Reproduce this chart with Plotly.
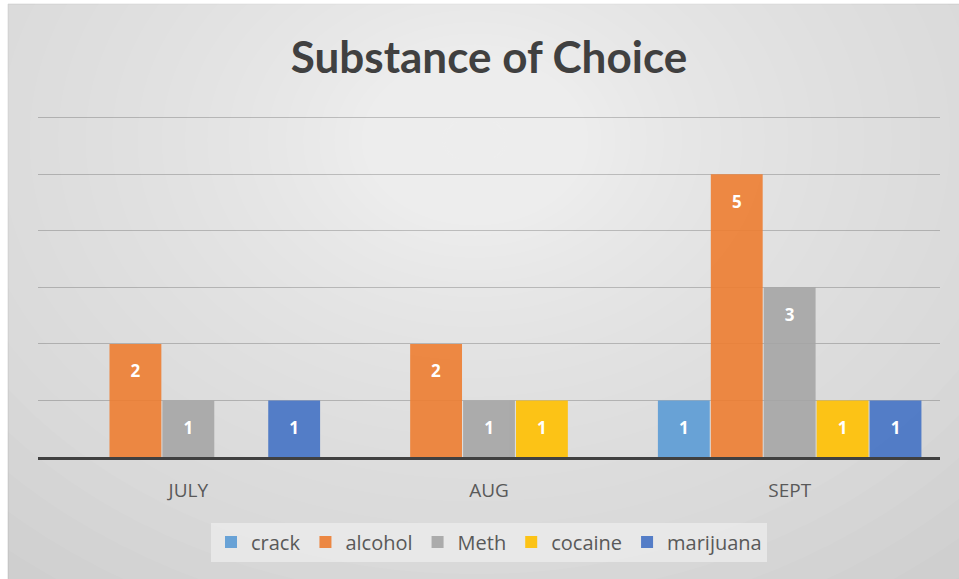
import plotly.graph_objects as go

months = ["JULY", "AUG", "SEPT"]
crack = [None, None, 1]
alcohol = [2, 2, 5]
meth = [1, 1, 3]
cocaine = [None, 1, 1]
marijuana = [1, None, 1]

series = [
    ("crack", crack, "#5B9BD5"),
    ("alcohol", alcohol, "#ED7D31"),
    ("Meth", meth, "#A5A5A5"),
    ("cocaine", cocaine, "#FFC000"),
    ("marijuana", marijuana, "#4472C4"),
]

W, H = 959, 579
ML, MR, MT, MB = 38, 19, 116, 122
PW, PH = W - ML - MR, H - MT - MB
YMAX = 6.03
LABEL_SHIFT = 0.22  # pushes value labels a little below the bar tops
FONT = "Lato"
FONT2 = "Open Sans"


def px(x):
    return (x - ML) / PW


def py(y):
    return (H - MB - y) / PH


fig = go.Figure()
for i, (name, vals, col) in enumerate(series):
    fig.add_trace(go.Bar(
        name=name, x=months, y=vals, offsetgroup=str(i),
        marker=dict(color=col, line=dict(width=0)),
        opacity=0.9, hoverinfo="x+y+name",
    ))
for i, (name, vals, col) in enumerate(series):
    # transparent label layer in the same slot as the bar
    fig.add_trace(go.Bar(
        name=name, x=months, y=vals, offsetgroup=str(i),
        base=-LABEL_SHIFT, showlegend=False, hoverinfo="skip",
        marker=dict(color="rgba(0,0,0,0)", line=dict(width=0)),
        text=[str(v) if v else "" for v in vals],
        textposition="inside", insidetextanchor="end",
        textfont=dict(color="white", size=17, family=FONT2, weight="bold"),
        textangle=0,
    ))

shapes = []
shapes.append(dict(type="rect", xref="paper", yref="paper",
                   x0=px(8), x1=px(W + 2), y0=py(4), y1=py(H + 2),
                   fillcolor="#cbcbcb", line=dict(color="#b5b5b5", width=1),
                   layer="below"))
cx, cy = 475, 140
n = 40
for i in range(n):
    f = (1 - i / n) ** 2.1
    rx, ry = 760 * f + 30, 580 * f + 22
    shapes.append(dict(type="circle", xref="paper", yref="paper",
                       x0=px(cx - rx), x1=px(cx + rx), y0=py(cy - ry), y1=py(cy + ry),
                       fillcolor="rgba(255,255,255,0.05)", line=dict(width=0),
                       layer="below"))
shapes.append(dict(type="rect", xref="paper", yref="paper",
                   x0=px(-50), x1=px(W + 50), y0=py(-50), y1=py(3.5),
                   fillcolor="white", line=dict(width=0), layer="below"))
shapes.append(dict(type="rect", xref="paper", yref="paper",
                   x0=px(-50), x1=px(7.5), y0=py(-50), y1=py(H + 50),
                   fillcolor="white", line=dict(width=0), layer="below"))

fig.update_layout(
    width=W, height=H,
    margin=dict(l=ML, r=MR, t=MT, b=MB),
    paper_bgcolor="white",
    plot_bgcolor="rgba(0,0,0,0)",
    barmode="group", bargap=0.12, bargroupgap=0.02,
    title=dict(text="<b>Substance of Choice</b>", x=489 / W,
               xanchor="center", y=1 - 58 / H, yanchor="middle",
               font=dict(family=FONT, size=44, color="#404040")),
    font=dict(family=FONT2, color="#595959"),
    xaxis=dict(showline=True, linecolor="#404040", linewidth=2.5,
               ticks="", tickfont=dict(size=19, color="#595959", family=FONT2),
               ticklabelstandoff=14, showgrid=False),
    yaxis=dict(range=[0, YMAX], tickvals=[1, 2, 3, 4, 5, 6], showticklabels=False,
               gridcolor="rgba(0,0,0,0.2)", gridwidth=1, zeroline=False),
    legend=dict(orientation="h", x=0.5, xanchor="center", y=py(542),
                yanchor="middle", bgcolor="rgba(238,238,238,0.7)",
                font=dict(size=20, color="#595959", family=FONT2), itemwidth=30,
                traceorder="normal"),
    shapes=shapes,
    showlegend=True,
)

fig.write_html("out.html")
